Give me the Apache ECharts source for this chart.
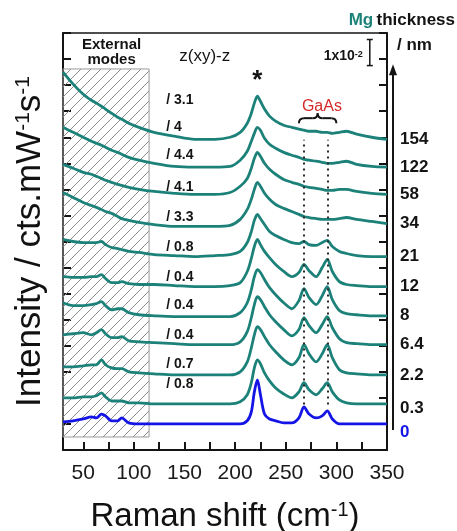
<!DOCTYPE html>
<html>
<head>
<meta charset="utf-8">
<script src="https://cdn.jsdelivr.net/npm/echarts@6/dist/echarts.min.js"></script>
<style>
html, body { margin: 0; padding: 0; background: #fff; }
#chart { width: 457px; height: 531px; }
</style>
</head>
<body>
<div id="chart"></div>
<script>
// Raman shift sampling points (cm^-1)
const ramanShift = [30, 40, 50, 58, 63, 68, 72, 78, 84, 88, 95, 105, 120, 140, 160, 180, 195, 205, 212, 216,
  219, 222, 225, 229, 234, 240, 248, 256, 263, 268, 273, 280, 286, 291, 296, 303, 310, 320, 335, 350];

// Stacked spectra (intensity in 1e-2 cts.mW^-1 s^-1, offset), one per Mg thickness
const spectrum154 = [14.50, 14.04, 13.65, 13.42, 13.31, 13.19, 13.08, 12.92, 12.77, 12.69, 12.54, 12.38, 12.19, 12.04, 11.92, 11.92, 12.00, 12.19, 12.54, 12.92,
  13.31, 13.58, 13.38, 13.08, 12.81, 12.62, 12.46, 12.38, 12.31, 12.27, 12.23, 12.23, 12.19, 12.19, 12.15, 12.19, 12.23, 12.12, 12.00, 11.92];
const spectrum122 = [12.38, 12.19, 12.00, 11.85, 11.77, 11.69, 11.62, 11.50, 11.42, 11.35, 11.23, 11.12, 11.00, 10.88, 10.85, 10.85, 10.88, 11.12, 11.46, 11.85,
  12.15, 12.38, 12.27, 11.96, 11.73, 11.58, 11.42, 11.31, 11.23, 11.15, 11.12, 11.08, 11.04, 11.00, 11.00, 11.04, 11.08, 10.96, 10.88, 10.85];
const spectrum58 = [10.96, 10.81, 10.65, 10.58, 10.50, 10.42, 10.35, 10.27, 10.19, 10.15, 10.08, 10.00, 9.92, 9.85, 9.81, 9.81, 9.88, 10.12, 10.42, 10.81,
  11.19, 11.42, 11.27, 11.00, 10.77, 10.58, 10.38, 10.27, 10.19, 10.12, 10.08, 10.04, 10.00, 9.96, 9.96, 10.00, 10.00, 9.92, 9.85, 9.81];
const spectrum34 = [9.88, 9.69, 9.50, 9.38, 9.31, 9.23, 9.15, 9.08, 8.96, 8.88, 8.81, 8.73, 8.65, 8.58, 8.58, 8.58, 8.62, 8.85, 9.23, 9.62,
  10.00, 10.27, 10.12, 9.85, 9.62, 9.42, 9.27, 9.15, 9.04, 8.96, 8.92, 8.88, 8.85, 8.85, 8.85, 8.88, 8.92, 8.85, 8.77, 8.69];
const spectrum21 = [8.08, 8.00, 7.96, 7.96, 7.96, 8.00, 7.88, 7.77, 7.73, 7.69, 7.62, 7.58, 7.50, 7.46, 7.42, 7.46, 7.50, 7.62, 7.96, 8.38,
  8.81, 9.04, 8.88, 8.65, 8.38, 8.23, 8.08, 7.96, 7.92, 8.00, 7.88, 7.85, 7.96, 8.04, 7.81, 7.62, 7.54, 7.46, 7.42, 7.42];
const spectrum12 = [6.65, 6.62, 6.62, 6.65, 6.65, 6.73, 6.58, 6.42, 6.42, 6.46, 6.38, 6.35, 6.35, 6.31, 6.27, 6.27, 6.31, 6.42, 6.85, 7.35,
  7.81, 8.08, 7.88, 7.62, 7.38, 7.12, 6.85, 6.65, 6.81, 7.12, 6.88, 6.65, 7.00, 7.31, 6.85, 6.46, 6.35, 6.31, 6.27, 6.27];
const spectrum8 = [5.65, 5.54, 5.54, 5.58, 5.62, 5.69, 5.54, 5.38, 5.42, 5.42, 5.27, 5.19, 5.15, 5.12, 5.12, 5.12, 5.12, 5.27, 5.65, 6.15,
  6.65, 6.92, 6.81, 6.54, 6.23, 5.96, 5.65, 5.42, 5.73, 6.19, 5.85, 5.58, 5.92, 6.27, 5.77, 5.35, 5.23, 5.19, 5.15, 5.15];
const spectrum6_4 = [4.42, 4.46, 4.50, 4.42, 4.50, 4.62, 4.46, 4.31, 4.31, 4.35, 4.19, 4.15, 4.12, 4.08, 4.04, 4.04, 4.04, 4.15, 4.54, 5.08,
  5.58, 5.88, 5.77, 5.50, 5.19, 4.92, 4.62, 4.38, 4.62, 5.08, 4.77, 4.50, 4.81, 5.12, 4.69, 4.27, 4.12, 4.08, 4.04, 4.04];
const spectrum2_2 = [3.19, 3.19, 3.23, 3.27, 3.27, 3.46, 3.27, 3.15, 3.12, 3.12, 3.00, 2.96, 2.92, 2.88, 2.88, 2.88, 2.88, 3.00, 3.38, 3.92,
  4.42, 4.73, 4.62, 4.35, 4.04, 3.77, 3.46, 3.27, 3.54, 4.04, 3.69, 3.38, 3.69, 4.04, 3.54, 3.08, 2.96, 2.92, 2.88, 2.88];
const spectrum0_3 = [2.00, 2.00, 2.04, 2.04, 2.08, 2.19, 2.04, 1.88, 1.88, 1.88, 1.81, 1.81, 1.77, 1.77, 1.77, 1.77, 1.77, 1.85, 2.12, 2.58,
  3.15, 3.46, 3.31, 2.96, 2.65, 2.38, 2.15, 2.00, 2.23, 2.58, 2.31, 2.12, 2.35, 2.58, 2.23, 1.92, 1.81, 1.77, 1.77, 1.77];
const spectrum0 = [1.08, 1.12, 1.19, 1.27, 1.23, 1.38, 1.31, 1.12, 1.12, 1.23, 1.04, 1.00, 1.00, 1.00, 1.00, 1.00, 1.00, 1.00, 1.12, 1.46,
  2.23, 2.69, 2.12, 1.38, 1.19, 1.12, 1.04, 1.04, 1.23, 1.65, 1.38, 1.23, 1.31, 1.50, 1.19, 1.00, 1.00, 1.00, 1.00, 1.00];

const thicknessLabels = ['154', '122', '58', '34', '21', '12', '8', '6.4', '2.2', '0.3', '0'];
const scaleFactors = ['/ 3.1', '/ 4', '/ 4.4', '/ 4.1', '/ 3.3', '/ 0.8', '/ 0.4', '/ 0.4', '/ 0.4', '/ 0.7', '/ 0.8'];

const xLabelValues = [50, 100, 150, 200, 250, 300, 350];
const xTickValues = [50, 75, 100, 125, 150, 175, 200, 225, 250, 275, 300, 325];
const gaasModes = [268, 291];          // GaAs TO / LO positions
const externalModes = [30, 115];       // shaded low-frequency range
const substratePeak = 222;             // peak marked with *
const scaleBarValue = 1;               // 1x10^-2

const spectra = [spectrum154, spectrum122, spectrum58, spectrum34, spectrum21, spectrum12,
  spectrum8, spectrum6_4, spectrum2_2, spectrum0_3, spectrum0];

const TEAL = '#1c8279';
const BLUE = '#1414e6';
const INK = '#141414';
const FONT = '"Liberation Sans", Arial, Helvetica, sans-serif';

// diagonal hatch tile for the external-modes region
const hatch = document.createElement('canvas');
hatch.width = 10; hatch.height = 10;
const hc = hatch.getContext('2d');
hc.strokeStyle = '#8c8c8c';
hc.lineWidth = 1;
hc.beginPath();
hc.moveTo(0, 10); hc.lineTo(10, 0);
hc.moveTo(-5, 5); hc.lineTo(5, -5);
hc.moveTo(5, 15); hc.lineTo(15, 5);
hc.stroke();

const chart = echarts.init(document.getElementById('chart'), null, { renderer: 'canvas' });

const decorSeries = {
  type: 'line',
  data: [],
  z: 1,
  silent: true,
  markArea: {
    silent: true,
    itemStyle: { color: { image: hatch, repeat: 'repeat' }, opacity: 1, borderColor: '#9a9a9a', borderWidth: 1 },
    label: { show: false },
    data: [[{ coord: [externalModes[0], 0.5] }, { coord: [externalModes[1], 14.62] }]]
  },
  markLine: {
    silent: true,
    symbol: 'none',
    label: { show: false },
    lineStyle: { color: '#2a2a2a', width: 2, type: [2, 4] },
    data: gaasModes.map(x => [{ coord: [x, 1.75] }, { coord: [x, 11.9] }])
  }
};

const spectrumSeries = spectra.map((vals, i) => ({
  type: 'line',
  data: ramanShift.map((x, k) => [x, vals[k]]),
  symbol: 'none',
  smooth: 0.3,
  z: 3,
  lineStyle: { color: i === 10 ? BLUE : TEAL, width: 2.8 },
  endLabel: {
    show: true,
    formatter: thicknessLabels[i],
    distance: 13,
    color: i === 10 ? BLUE : INK,
    fontSize: 17,
    fontWeight: 'bold',
    fontFamily: FONT,
    offset: [0, i === 9 ? 4 : (i === 10 ? 8 : 0)]
  }
}));

const axisLineStyle = { color: INK, width: 2 };

const option = {
  animation: false,
  grid: { left: 63, right: 70, top: 33, bottom: 81, outerBoundsMode: 'none', containLabel: false },
  xAxis: [{
    type: 'value', min: 30, max: 350, position: 'bottom',
    axisLine: { show: true, onZero: false, lineStyle: axisLineStyle },
    axisTick: { show: true, inside: true, length: 8, lineStyle: { color: INK, width: 2 }, customValues: xTickValues },
    axisLabel: { customValues: xLabelValues, fontSize: 21, color: '#1a1a1a', fontFamily: FONT, margin: 13 },
    splitLine: { show: false },
    name: '{a|Raman shift (cm}{s|-1}{a|)}',
    nameLocation: 'middle',
    nameGap: 50,
    nameTextStyle: {
      rich: {
        a: { fontSize: 33, color: '#111', fontFamily: FONT },
        s: { fontSize: 20, color: '#111', fontFamily: FONT, verticalAlign: 'top' }
      }
    }
  }, {
    type: 'value', min: 30, max: 350, position: 'top',
    axisLine: { show: true, onZero: false, lineStyle: { color: INK, width: 1.5 } },
    axisTick: { show: false }, axisLabel: { show: false }, splitLine: { show: false }
  }],
  yAxis: [{
    type: 'value', min: 0, max: 16, interval: 1, position: 'left',
    axisLine: { show: true, onZero: false, lineStyle: axisLineStyle },
    axisTick: { show: true, inside: true, length: 8, lineStyle: { color: INK, width: 2 } },
    axisLabel: { show: false },
    splitLine: { show: false },
    name: '{a|Intensity / cts.mW}{s|-1}{a|s}{s|-1}',
    nameLocation: 'middle',
    nameGap: 15,
    nameRotate: 90,
    nameTextStyle: {
      rich: {
        a: { fontSize: 35, color: '#111', fontFamily: FONT },
        s: { fontSize: 21, color: '#111', fontFamily: FONT, verticalAlign: 'top' }
      }
    }
  }, {
    type: 'value', min: 0, max: 16, interval: 1, position: 'right',
    axisLine: { show: true, onZero: false, lineStyle: axisLineStyle },
    axisTick: { show: true, inside: true, length: 8, lineStyle: { color: INK, width: 2 } },
    axisLabel: { show: false },
    splitLine: { show: false }
  }],
  series: [decorSeries].concat(spectrumSeries)
};

chart.setOption(option);

// annotations placed from data coordinates
const P = (x, y) => chart.convertToPixel({ xAxisIndex: 0, yAxisIndex: 0 }, [x, y]);
const g = [];
function addText(pt, text, style) {
  g.push({
    type: 'text', x: pt[0], y: pt[1], z: 20, silent: true,
    style: Object.assign({ text: text, fontFamily: FONT, fill: INK, align: 'center', verticalAlign: 'middle' }, style)
  });
}
function addLine(a, b, stroke, width) {
  g.push({ type: 'line', z: 20, silent: true, shape: { x1: a[0], y1: a[1], x2: b[0], y2: b[1] }, style: { stroke: stroke, lineWidth: width } });
}

addText(P(78, 15.54), 'External', { fontSize: 15, fontWeight: 'bold' });
addText(P(78, 14.96), 'modes', { fontSize: 15, fontWeight: 'bold' });
addText(P(170, 15.12), 'z(xy)-z', { fontSize: 17 });

// intensity scale bar
const barTop = P(333, 14.75 + scaleBarValue);
const barBot = P(333, 14.75);
addLine(barTop, barBot, INK, 1.5);
addLine([barTop[0] - 3, barTop[1]], [barTop[0] + 3, barTop[1]], INK, 1.5);
addLine([barBot[0] - 3, barBot[1]], [barBot[0] + 3, barBot[1]], INK, 1.5);
g.push({
  type: 'text', x: barBot[0] - 7, y: (barTop[1] + barBot[1]) / 2 + 4, z: 20, silent: true,
  style: {
    text: '{a|1x10}{s|-2}', align: 'right', verticalAlign: 'middle',
    rich: {
      a: { fontSize: 14, fontWeight: 'bold', fontFamily: FONT, fill: INK },
      s: { fontSize: 9, fontWeight: 'bold', fontFamily: FONT, fill: INK, verticalAlign: 'top' }
    }
  }
});

// substrate peak marker and GaAs modes
addText(P(substratePeak, 14.15), '*', { fontSize: 26, fontWeight: 'bold' });
addText(P(285.7, 13.19), 'GaAs', { fontSize: 16, fill: '#d42a2a' });
const bl = P(263, 12.54), br = P(300, 12.54);
const xm = (bl[0] + br[0]) / 2, yt = bl[1] - 5, yb = bl[1];
function quad(x1, y1, cx, cy, x2, y2) {
  g.push({ type: 'bezierCurve', z: 20, silent: true, shape: { x1: x1, y1: y1, cpx1: cx, cpy1: cy, x2: x2, y2: y2 }, style: { stroke: INK, lineWidth: 2, fill: null } });
}
quad(bl[0], yb, bl[0], yt, bl[0] + 5, yt);
addLine([bl[0] + 5, yt], [xm - 5, yt], INK, 2);
quad(xm - 5, yt, xm, yt, xm, yt - 5);
quad(xm, yt - 5, xm, yt, xm + 5, yt);
addLine([xm + 5, yt], [br[0] - 5, yt], INK, 2);
quad(br[0] - 5, yt, br[0], yt, br[0], yb);

// per-spectrum scaling factors
spectra.forEach((vals, i) => {
  addText(P(132, vals[14] + 1.52), scaleFactors[i], { fontSize: 14, fontWeight: 'bold', align: 'left' });
});

// thickness arrow on the right
const arrowBot = P(350, 0.77), arrowTop = P(350, 14.8);
const ax = arrowBot[0] + 6;
addLine([ax, arrowBot[1]], [ax, arrowTop[1] + 8], INK, 2);
g.push({ type: 'polygon', z: 20, silent: true, shape: { points: [[ax, arrowTop[1]], [ax - 4, arrowTop[1] + 11], [ax + 4, arrowTop[1] + 11]] }, style: { fill: INK } });

g.push({
  type: 'text', x: 455, y: 20, z: 20, silent: true,
  style: {
    text: '{m|Mg} {t|thickness}', align: 'right', verticalAlign: 'middle',
    rich: {
      m: { fontSize: 17, fontWeight: 'bold', fontFamily: FONT, fill: TEAL },
      t: { fontSize: 17, fontWeight: 'bold', fontFamily: FONT, fill: INK }
    }
  }
});
g.push({
  type: 'text', x: ax + 4, y: 45, z: 20, silent: true,
  style: { text: '/ nm', align: 'left', verticalAlign: 'middle', fontSize: 17, fontWeight: 'bold', fontFamily: FONT, fill: INK }
});

chart.setOption({ graphic: { elements: g } });
</script>
</body>
</html>
